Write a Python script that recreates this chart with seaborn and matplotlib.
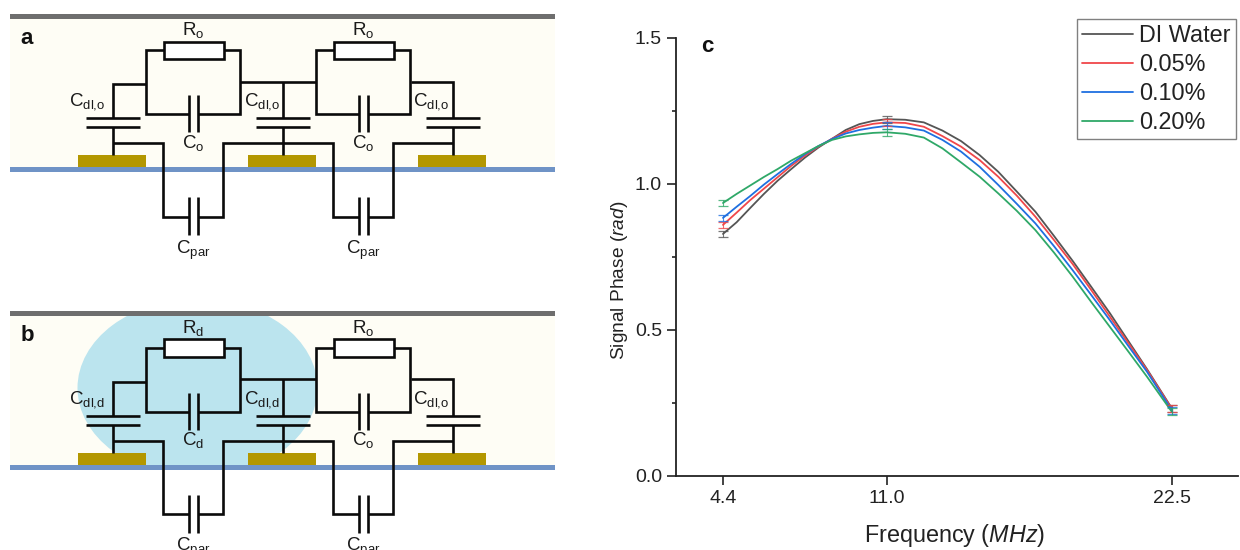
import matplotlib
matplotlib.use("Agg")
import matplotlib.pyplot as plt
from matplotlib.patches import Ellipse, Rectangle
import pandas as pd
import seaborn as sns

# phase curves
freq = [4.4, 4.95, 5.5, 6.05, 6.6, 7.15, 7.7, 8.25, 8.8, 9.35, 9.9, 10.45, 11.0, 11.75, 12.5, 13.25, 14.0,
        14.75, 15.5, 16.25, 17.0, 17.75, 18.5, 19.25, 20.0, 20.75, 21.5, 22.5]
di_water = [0.829, 0.869, 0.918, 0.966, 1.011, 1.051, 1.090, 1.125, 1.155, 1.185, 1.205, 1.216, 1.222, 1.220,
            1.211, 1.183, 1.147, 1.099, 1.042, 0.974, 0.905, 0.822, 0.737, 0.648, 0.558, 0.462, 0.366, 0.232]
pct_005 = [0.860, 0.902, 0.945, 0.984, 1.023, 1.062, 1.097, 1.128, 1.155, 1.179, 1.196, 1.206, 1.211, 1.209,
           1.196, 1.164, 1.128, 1.082, 1.025, 0.960, 0.888, 0.808, 0.726, 0.637, 0.546, 0.455, 0.363, 0.230]
pct_010 = [0.884, 0.922, 0.959, 0.998, 1.034, 1.069, 1.102, 1.130, 1.154, 1.173, 1.185, 1.193, 1.199, 1.194,
           1.183, 1.151, 1.111, 1.059, 0.997, 0.932, 0.865, 0.787, 0.705, 0.620, 0.534, 0.445, 0.357, 0.225]
pct_020 = [0.935, 0.966, 0.995, 1.024, 1.051, 1.080, 1.105, 1.130, 1.151, 1.163, 1.170, 1.175, 1.177, 1.172,
           1.159, 1.122, 1.074, 1.025, 0.968, 0.908, 0.842, 0.765, 0.683, 0.596, 0.511, 0.426, 0.340, 0.220]

labels = ["DI Water", "0.05%", "0.10%", "0.20%"]
colors = ["#555555", "#f0474a", "#1f6fe0", "#2fa868"]
err_freq = [4.4, 11.0, 22.5]
err_size = [0.010, 0.012, 0.012]
y_ticks = [0.0, 0.5, 1.0, 1.5]
y_minor = [0.25, 0.75, 1.25]

# schematic of one panel, in pixels, panel a position
wires = [
    [(146, 84), (112.7, 84), (112.7, 118)],
    [(112.7, 127), (112.7, 155)],
    [(240, 81.7), (316, 81.7)],
    [(282.7, 81.7), (282.7, 118)],
    [(282.7, 127), (282.7, 155)],
    [(410.7, 81.7), (452.7, 81.7), (452.7, 118)],
    [(452.7, 127), (452.7, 155)],
    [(112.7, 143.3), (163.3, 143.3), (163.3, 216.7), (189, 216.7)],
    [(197.5, 216.7), (222.7, 216.7), (222.7, 143.3), (333.3, 143.3), (333.3, 216.7), (359, 216.7)],
    [(367.7, 216.7), (392.7, 216.7), (392.7, 143.3), (452.7, 143.3)],
]
cell_x = [0, 170]
dl_x = [112.7, 282.7, 452.7]
dl_label_x = [87, 261.7, 430.7]
gold_x = [78, 248, 418]
shift_b = 297.5

sns.set_theme(style="ticks")
plt.rcParams["font.family"] = ["Liberation Sans", "DejaVu Sans"]
plt.rcParams["mathtext.fontset"] = "custom"
plt.rcParams["mathtext.rm"] = "Liberation Sans"
plt.rcParams["mathtext.it"] = "Liberation Sans:italic"


def wire(ax, pts, dy, lw=1.9):
    xs = [p[0] for p in pts]
    ys = [p[1] + dy for p in pts]
    ax.plot(xs, ys, color="#0a0a0a", lw=lw, solid_capstyle="butt", solid_joinstyle="miter", zorder=4)


def note(ax, x, y, s, size=13.5):
    ax.text(x, y, s, ha="center", va="center", fontsize=size, color="#1a1a1a", zorder=6)


def draw_panel(ax, dy, letter, r_names, c_names, dl_names):
    ax.add_patch(Rectangle((10, 18 + dy), 545, 149, fc="#fefdf5", ec="none", zorder=0))
    if letter == "b":
        drop = Ellipse((197.5, 388), 240, 178, fc="#bbe4ee", ec="none", zorder=1)
        ax.add_patch(drop)
        drop.set_clip_path(Rectangle((10, 316), 545, 149, transform=ax.transData))
    ax.add_patch(Rectangle((10, 13.5 + dy), 545, 5, fc="#6e6e6e", ec="none", zorder=2))
    ax.add_patch(Rectangle((10, 167 + dy), 545, 5, fc="#6f93c6", ec="none", zorder=2))
    for gx in gold_x:
        ax.add_patch(Rectangle((gx, 155 + dy), 68, 12, fc="#b39700", ec="none", zorder=3))
    for pts in wires:
        wire(ax, pts, dy)
    for i, cx in enumerate(cell_x):
        # parallel R and C of one cell
        ax.add_patch(Rectangle((163.5 + cx, 41.5 + dy), 60, 17.5, fc="white", ec="#0a0a0a", lw=1.9, zorder=5))
        wire(ax, [(163.5 + cx, 50), (146 + cx, 50), (146 + cx, 114), (189 + cx, 114)], dy)
        wire(ax, [(223.5 + cx, 50), (240 + cx, 50), (240 + cx, 114), (197.5 + cx, 114)], dy)
        for px in (189, 197.5):
            wire(ax, [(px + cx, 95), (px + cx, 132)], dy)
            wire(ax, [(px + cx, 197), (px + cx, 235)], dy)
        note(ax, 193.5 + cx, 30 + dy, r_names[i])
        note(ax, 193.5 + cx, 143 + dy, c_names[i])
        note(ax, 193.5 + cx, 250 + dy, "C$_{\\mathrm{par}}$")
    for i, dx in enumerate(dl_x):
        for py in (118, 127):
            wire(ax, [(dx - 27, py), (dx + 27, py)], dy)
        note(ax, dl_label_x[i], 102 + dy, dl_names[i])
    ax.text(27, 38 + dy, letter, ha="center", va="center", fontsize=16, fontweight="bold", color="#111111", zorder=6)


fig = plt.figure(figsize=(12.4, 5.5), dpi=100)

# schematic layer in pixel units
sketch = fig.add_axes([0, 0, 1, 1])
sketch.set_xlim(0, 1240)
sketch.set_ylim(550, 0)
sketch.set_axis_off()
draw_panel(sketch, 0, "a", ["R$_{\\mathrm{o}}$", "R$_{\\mathrm{o}}$"], ["C$_{\\mathrm{o}}$", "C$_{\\mathrm{o}}$"],
           ["C$_{\\mathrm{dl{,}o}}$"] * 3)
draw_panel(sketch, shift_b, "b", ["R$_{\\mathrm{d}}$", "R$_{\\mathrm{o}}$"], ["C$_{\\mathrm{d}}$", "C$_{\\mathrm{o}}$"],
           ["C$_{\\mathrm{dl{,}d}}$", "C$_{\\mathrm{dl{,}d}}$", "C$_{\\mathrm{dl{,}o}}$"])

# panel c
ax = fig.add_axes([676 / 1240, 1 - 476 / 550, 562 / 1240, 438 / 550])
ax.patch.set_alpha(0)
series = [di_water, pct_005, pct_010, pct_020]
df = pd.DataFrame({
    "freq": freq * 4,
    "phase": di_water + pct_005 + pct_010 + pct_020,
    "sample": [n for n in labels for _ in freq],
})
sns.lineplot(data=df, x="freq", y="phase", hue="sample", hue_order=labels, palette=colors,
             lw=1.3, errorbar=None, sort=False, ax=ax)

for vals, col in zip(series, colors):
    err_y = [vals[freq.index(f)] for f in err_freq]
    ax.errorbar(err_freq, err_y, yerr=err_size, fmt="none", ecolor=col, elinewidth=0.8,
                capsize=3.5, capthick=0.9, alpha=0.8)

ax.set_xlim(2.505, 25.17)
ax.set_ylim(0, 1.5)
ax.set_xticks(err_freq)
ax.set_xticklabels([f"{f:.1f}" for f in err_freq])
ax.set_yticks(y_ticks)
ax.set_yticklabels([f"{t:.1f}" for t in y_ticks])
ax.set_yticks(y_minor, minor=True)
ax.tick_params(axis="both", which="major", length=6.5, width=1.2, labelsize=14, color="#222222",
               labelcolor="#222222", pad=3.5)
ax.tick_params(axis="y", which="minor", length=3, width=1.2, color="#222222")
ax.set_xlabel("Frequency $\\mathit{(MHz)}$", fontsize=16.8, color="#222222")
ax.xaxis.set_label_coords(0.496, -0.105)
ax.set_ylabel("Signal Phase $\\mathit{(rad)}$", fontsize=13.8, color="#222222")
ax.yaxis.set_label_coords(-0.081, 0.447)
sns.despine(ax=ax)
for side in ("left", "bottom"):
    ax.spines[side].set_linewidth(1.3)
    ax.spines[side].set_color("#222222")

ax.text(707, 47, "c", transform=sketch.transData, ha="center", va="center", fontsize=16, fontweight="bold", color="#111111")

handles, names = ax.get_legend_handles_labels()
leg = ax.legend(handles, names, loc="upper left", bbox_to_anchor=(1077 / 1240, 1 - 19 / 550),
                bbox_transform=fig.transFigure, frameon=True, fancybox=False, framealpha=1, edgecolor="#808080",
                fontsize=16.8, handlelength=2.2, handletextpad=0.25, labelspacing=0.26,
                borderpad=0.22, borderaxespad=0)
leg.get_frame().set_linewidth(1.0)
for t in leg.get_texts():
    t.set_color("#222222")

fig.savefig("out.png", dpi=100)
